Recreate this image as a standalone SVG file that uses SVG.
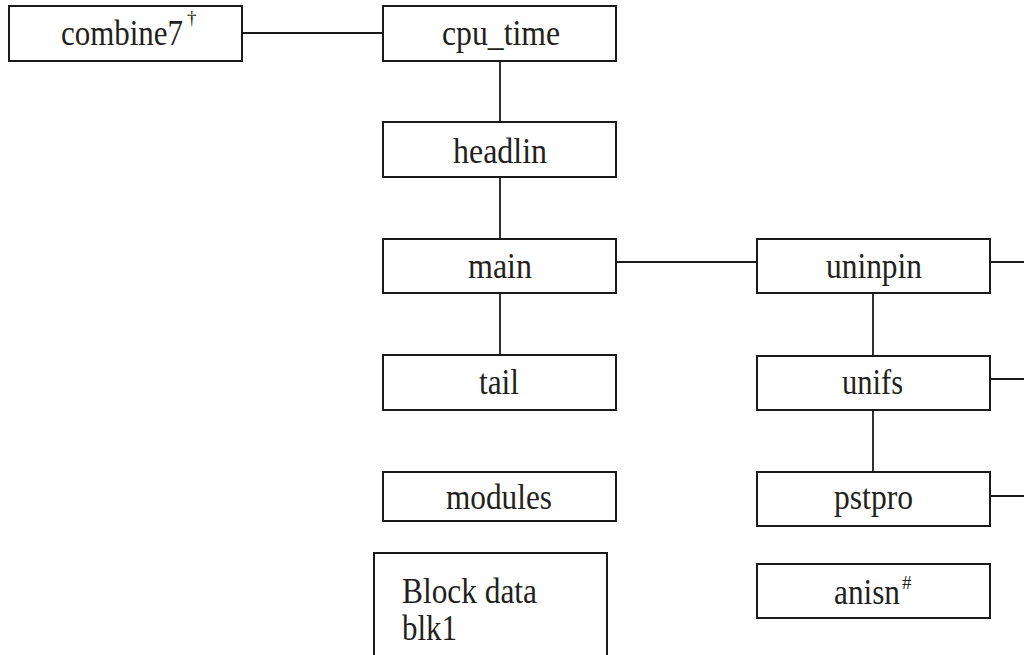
<svg xmlns="http://www.w3.org/2000/svg" width="1024" height="655" viewBox="0 0 1024 655">
<style>
.box{fill:#fff;stroke:#1a1a1a;stroke-width:2}
.lbl{font-family:"Liberation Serif","Times New Roman",serif;font-size:36px;fill:#231f20}
.sup{font-family:"Liberation Serif","DejaVu Serif",serif;font-size:19px;fill:#231f20}
.con line{stroke:#1a1a1a;stroke-width:1.8}
</style>
<rect width="1024" height="655" fill="#fff"/>
<g id="connectors" class="con">
<line x1="242" y1="33" x2="383" y2="33"/>
<line x1="500" y1="61" x2="500" y2="122"/>
<line x1="500" y1="177" x2="500" y2="239"/>
<line x1="500" y1="293" x2="500" y2="355"/>
<line x1="616" y1="262" x2="757" y2="262"/>
<line x1="990" y1="262" x2="1024" y2="262"/>
<line x1="873" y1="293" x2="873" y2="356"/>
<line x1="990" y1="379" x2="1024" y2="379"/>
<line x1="873" y1="410" x2="873" y2="472"/>
<line x1="990" y1="496" x2="1024" y2="496"/>
</g>
<g id="combine7">
<rect class="box" x="9" y="6" width="233" height="55"/>
<text class="lbl" x="61" y="45" textLength="122" lengthAdjust="spacingAndGlyphs">combine7</text>
<text class="sup" x="187" y="24">†</text>
</g>
<g id="cpu_time">
<rect class="box" x="383" y="6" width="233" height="55"/>
<text class="lbl" x="442" y="45" textLength="118" lengthAdjust="spacingAndGlyphs">cpu_time</text>
</g>
<g id="headlin">
<rect class="box" x="383" y="122" width="233" height="55"/>
<text class="lbl" x="453" y="163" textLength="94" lengthAdjust="spacingAndGlyphs">headlin</text>
</g>
<g id="main">
<rect class="box" x="383" y="239" width="233" height="54"/>
<text class="lbl" x="468" y="278" textLength="64" lengthAdjust="spacingAndGlyphs">main</text>
</g>
<g id="uninpin">
<rect class="box" x="757" y="239" width="233" height="54"/>
<text class="lbl" x="826" y="278" textLength="96" lengthAdjust="spacingAndGlyphs">uninpin</text>
</g>
<g id="tail">
<rect class="box" x="383" y="355" width="233" height="55"/>
<text class="lbl" x="479" y="394" textLength="40" lengthAdjust="spacingAndGlyphs">tail</text>
</g>
<g id="unifs">
<rect class="box" x="757" y="356" width="233" height="54"/>
<text class="lbl" x="842" y="394" textLength="61" lengthAdjust="spacingAndGlyphs">unifs</text>
</g>
<g id="modules">
<rect class="box" x="383" y="472" width="233" height="49"/>
<text class="lbl" x="446" y="509" textLength="106" lengthAdjust="spacingAndGlyphs">modules</text>
</g>
<g id="pstpro">
<rect class="box" x="757" y="472" width="233" height="54"/>
<text class="lbl" x="834" y="509" textLength="79" lengthAdjust="spacingAndGlyphs">pstpro</text>
</g>
<g id="blockdata">
<rect class="box" x="374" y="553" width="233" height="120"/>
<text class="lbl"><tspan x="402" y="603" textLength="135" lengthAdjust="spacingAndGlyphs">Block data</tspan><tspan x="402" y="640" textLength="55" lengthAdjust="spacingAndGlyphs">blk1</tspan></text>
</g>
<g id="anisn">
<rect class="box" x="757" y="564" width="233" height="54"/>
<text class="lbl" x="834" y="604" textLength="66" lengthAdjust="spacingAndGlyphs">anisn</text>
<text class="sup" x="902" y="589">#</text>
</g>
</svg>
